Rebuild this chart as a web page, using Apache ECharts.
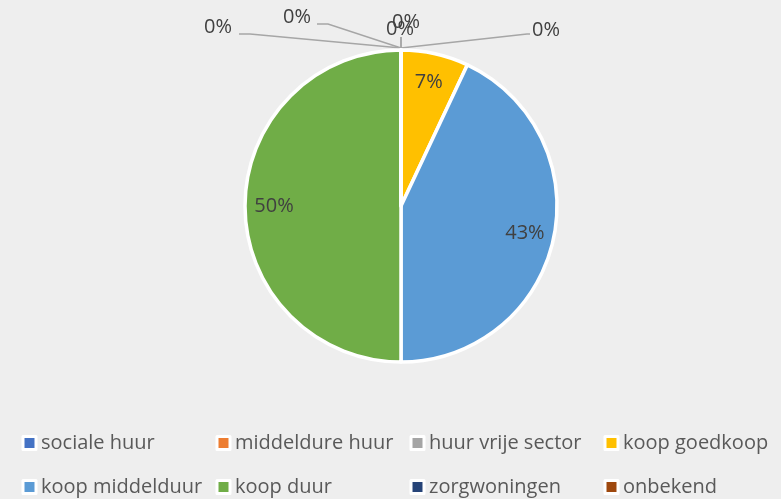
<!DOCTYPE html>
<html>
<head>
<meta charset="utf-8">
<script src="https://cdn.jsdelivr.net/npm/echarts@6/dist/echarts.min.js"></script>
<style>
  html, body { margin: 0; padding: 0; background: #eeeeee; }
  #chart { width: 781px; height: 499px; }
</style>
</head>
<body>
<div id="chart"></div>
<script>
const categories = ['sociale huur', 'middeldure huur', 'huur vrije sector', 'koop goedkoop',
  'koop middelduur', 'koop duur', 'zorgwoningen', 'onbekend'];
const values = [0, 0, 0, 7, 43, 50, 0, 0];
const colors = ['#4472c4', '#ed7d31', '#a5a5a5', '#ffc000', '#5b9bd5', '#70ad47', '#264478', '#9e480e'];

const cx = 401, cy = 206, r = 156;

// where the 0% labels end up (relative to pie centre), with their leader lines
const zeroLabels = {
  0: { x: 145, y: -176, line: [[126, -172], [129, -172]] },
  1: { x: 5, y: -184, line: [[0, -169], [0, -169]] },
  2: { x: -1, y: -177, line: [[0, -169], [0, -169]] },
  6: { x: -104, y: -189, line: [[-73, -182], [-84, -182]] },
  7: { x: -183, y: -179, line: [[-151, -172], [-162, -172]] }
};

const seriesData = categories.map((name, i) => {
  const item = { name, value: values[i], itemStyle: { color: colors[i] } };
  if (values[i] !== 0) {
    item.label = { show: false };
    item.labelLine = { show: false };
  }
  return item;
});

const legendCols = [21.5, 215.5, 409.5, 603.5];
const legendRows = [433, 477];
const legends = categories.map((name, i) => ({
  data: [name],
  left: legendCols[i % 4],
  top: legendRows[Math.floor(i / 4)],
  padding: 0,
  icon: 'rect',
  itemWidth: 13,
  itemHeight: 13,
  selectedMode: false,
  itemStyle: { borderColor: '#ffffff', borderWidth: 3 },
  textStyle: { fontFamily: 'Open Sans', fontSize: 20, color: '#595959' }
}));

const chart = echarts.init(document.getElementById('chart'));
chart.setOption({
  backgroundColor: '#eeeeee',
  animation: false,
  legend: legends,
  series: [
    {
      type: 'pie',
      center: [cx, cy],
      radius: r,
      startAngle: 90,
      clockwise: true,
      avoidLabelOverlap: false,
      minShowLabelAngle: 0,
      itemStyle: { borderColor: '#ffffff', borderWidth: 3.5 },
      label: {
        show: true,
        position: 'outside',
        fontFamily: 'Open Sans',
        fontSize: 20,
        color: '#404040',
        formatter: p => (p.value === 0 ? '0%' : '')
      },
      labelLine: { show: true, lineStyle: { color: '#a6a6a6', width: 1.5 } },
      labelLayout: p => {
        const z = zeroLabels[p.dataIndex];
        if (!z) return {};
        return {
          x: cx + z.x,
          y: cy + z.y,
          align: 'center',
          verticalAlign: 'middle',
          labelLinePoints: [[cx, cy - r - 2], [cx + z.line[0][0], cy + z.line[0][1]], [cx + z.line[1][0], cy + z.line[1][1]]]
        };
      },
      data: seriesData
    },
    {
      // transparent ring only used to place the percentage labels further out
      type: 'pie',
      center: [cx, cy],
      radius: [92, r],
      startAngle: 90,
      clockwise: true,
      silent: true,
      avoidLabelOverlap: false,
      itemStyle: { color: 'rgba(0,0,0,0)', borderWidth: 0 },
      label: {
        show: true,
        position: 'inside',
        fontFamily: 'Open Sans',
        fontSize: 20,
        color: '#404040',
        formatter: p => (p.value === 0 ? '' : Math.round(p.percent) + '%')
      },
      labelLine: { show: false },
      data: values.map((v, i) => ({ name: categories[i], value: v }))
    }
  ]
});
</script>
</body>
</html>
